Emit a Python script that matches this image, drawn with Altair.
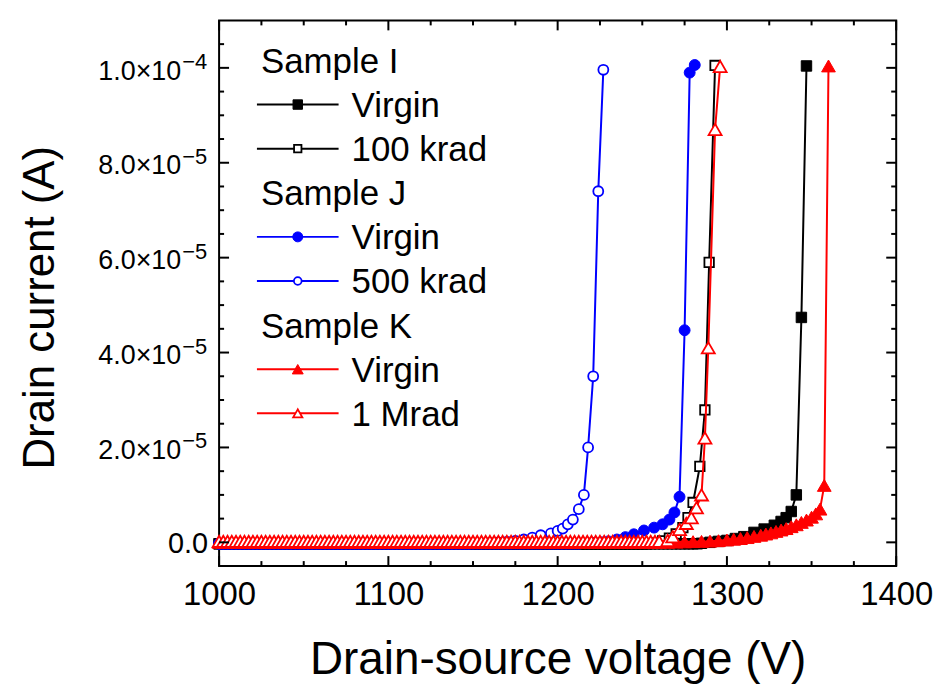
import altair as alt
import pandas as pd
import numpy as np

# ---------------- data (currents in microampere, voltages in V) ----------------
SWEEP_START = 1000.0          # V, start of the voltage sweep
SWEEP_STEP = 2.5              # V, sweep step in the low-current region

SERIES_NAMES = ["Sample I Virgin", "Sample I 100 krad", "Sample J Virgin",
                "Sample J 500 krad", "Sample K Virgin", "Sample K 1 Mrad"]

# flat (leakage) part: sweep ends before first listed rise voltage, leakage level
LEAK_END = [1285, 1255, 1215, 1150, 1262.5, 1262.5]
LEAK_uA = [-0.3, -0.3, -0.3, -0.3, 0.0, 0.2]

RISE_V = [
    [1285, 1290, 1295, 1300, 1305, 1310, 1316, 1322, 1328, 1332, 1335, 1338, 1341, 1344, 1347],
    [1258, 1262, 1266, 1270, 1274, 1277, 1280, 1284, 1287, 1289.5, 1293],
    [1218, 1222, 1226, 1230, 1235, 1240, 1245, 1251, 1257, 1262, 1266, 1269, 1272, 1275, 1278, 1281],
    [1155, 1160, 1165, 1170, 1175, 1180, 1185, 1190, 1196, 1200, 1203, 1206, 1209, 1212.5, 1215.5,
     1218, 1221, 1224, 1227],
    [1265, 1270, 1275, 1280, 1285, 1290, 1295, 1300, 1304, 1308, 1312, 1316, 1320, 1323, 1326,
     1329, 1332, 1335, 1338, 1341, 1344, 1347, 1350, 1352.5, 1355, 1357.5, 1360],
    [1265, 1268, 1272, 1276, 1279, 1282, 1285, 1287, 1289, 1293, 1296],
]
RISE_uA = [
    [-0.2, 0.0, 0.2, 0.4, 0.8, 1.2, 2.1, 2.8, 3.6, 4.4, 5.2, 6.5, 10.0, 47.4, 100.4],
    [-0.1, 0.3, 0.9, 1.8, 3.1, 5.2, 8.4, 16.0, 27.9, 59.0, 100.5],
    [-0.2, -0.1, 0.0, 0.2, 0.6, 1.1, 1.7, 2.5, 3.1, 3.8, 4.8, 6.3, 9.6, 44.7, 99.0, 100.6],
    [-0.2, -0.1, 0.0, 0.1, 0.3, 0.6, 1.0, 1.5, 1.9, 2.4, 2.9, 3.8, 4.8, 7.0, 10.0,
     20.0, 35.0, 74.0, 99.6],
    [0.0, 0.05, 0.1, 0.15, 0.2, 0.25, 0.35, 0.5, 0.65, 0.8, 1.0, 1.25, 1.5, 1.75, 2.0,
     2.3, 2.6, 2.9, 3.3, 3.7, 4.2, 4.7, 5.3, 6.0, 7.0, 12.0, 100.4],
    [0.4, 1.2, 2.7, 4.0, 5.2, 7.3, 10.0, 22.0, 41.0, 87.0, 100.3],
]

# legend entries
LEGEND_GROUPS = ["Sample I", "Sample J", "Sample K"]
LEGEND_LABELS = ["Virgin", "100 krad", "Virgin", "500 krad", "Virgin", "1 Mrad"]

# axes
X_MAJOR = [1000, 1100, 1200, 1300, 1400]
X_MINOR = [1025, 1050, 1075, 1125, 1150, 1175, 1225, 1250, 1275, 1325, 1350, 1375]
Y_MAJOR = [0.0, 2e-5, 4e-5, 6e-5, 8e-5, 1e-4]
Y_MINOR = [5e-6, 1e-5, 1.5e-5, 2.5e-5, 3e-5, 3.5e-5, 4.5e-5, 5e-5, 5.5e-5, 6.5e-5, 7e-5, 7.5e-5,
           8.5e-5, 9e-5, 9.5e-5, 1.05e-4]
Y_LABEL_ZERO = "0.0"
Y_LABEL_MANT = ["2.0×10", "4.0×10", "6.0×10", "8.0×10", "1.0×10"]
Y_LABEL_EXP = ["−5", "−5", "−5", "−5", "−4"]

# ---------------- styles ----------------
COLORS = ["#000000", "#000000", "#0000ff", "#0000ff", "#ff0000", "#ff0000"]
SHAPES = ["square", "square", "circle", "circle", "triangle-up", "triangle-up"]
OPEN = [False, True, False, True, False, True]
MSIZE = [110, 90, 120, 100, 190, 170]
LSIZE = [90, 55, 100, 60, 120, 85]

FONT = "Liberation Sans"
W, H = 680, 548
X_DOMAIN = [1000, 1400]
Y_DOMAIN = [-5e-6, 1.1e-4]

x_enc = alt.X(
    "V:Q",
    scale=alt.Scale(domain=X_DOMAIN, nice=False, zero=False),
    axis=alt.Axis(
        title="Drain-source voltage (V)", values=X_MAJOR, format="d",
        ticks=False, domain=False, grid=False, labelFlush=False, labelOverlap=False,
        labelFont=FONT, labelFontSize=33, labelColor="black", labelPadding=13,
        titleFont=FONT, titleFontSize=46, titleFontWeight="normal", titleColor="black",
        titleY=108, titleBaseline="alphabetic",
    ),
)
y_enc = alt.Y(
    "I:Q",
    scale=alt.Scale(domain=Y_DOMAIN, nice=False, zero=False),
    axis=alt.Axis(
        title="Drain current (A)", values=Y_MAJOR, labels=False,
        ticks=False, domain=False, grid=False,
        titleFont=FONT, titleFontSize=44, titleFontWeight="normal", titleColor="black",
        titleX=-166, titleY=288, titleAngle=-90, titleAlign="center", titleBaseline="alphabetic",
    ),
)

layers = []

# data series
for k in range(6):
    flat_v = list(np.arange(SWEEP_START, LEAK_END[k], SWEEP_STEP))
    v = flat_v + RISE_V[k]
    i = [LEAK_uA[k]] * len(flat_v) + RISE_uA[k]
    df = pd.DataFrame({"V": v, "I": [x * 1e-6 for x in i]})
    base = alt.Chart(df)
    layers.append(base.mark_line(color=COLORS[k], strokeWidth=2).encode(x=x_enc, y=y_enc))
    if OPEN[k]:
        pm = base.mark_point(shape=SHAPES[k], filled=True, fill="white", stroke=COLORS[k],
                             strokeWidth=1.8, size=MSIZE[k], opacity=1)
    else:
        pm = base.mark_point(shape=SHAPES[k], filled=True, fill=COLORS[k], stroke=COLORS[k],
                             strokeWidth=1, size=MSIZE[k], opacity=1)
    layers.append(pm.encode(x=x_enc, y=y_enc))

# inward ticks on all four sides
MAJ_LEN, MIN_LEN = 10, 5
for vals, L in [(X_MAJOR, MAJ_LEN), (X_MINOR, MIN_LEN)]:
    d = alt.Chart(pd.DataFrame({"V": vals}))
    layers.append(d.mark_rule(color="black", strokeWidth=2).encode(
        x=x_enc, y=alt.value(H), y2=alt.value(H - L)))
    layers.append(d.mark_rule(color="black", strokeWidth=2).encode(
        x=x_enc, y=alt.value(0), y2=alt.value(L)))
for vals, L in [(Y_MAJOR, MAJ_LEN), (Y_MINOR, MIN_LEN)]:
    d = alt.Chart(pd.DataFrame({"I": vals}))
    layers.append(d.mark_rule(color="black", strokeWidth=2).encode(
        y=y_enc, x=alt.value(0), x2=alt.value(L)))
    layers.append(d.mark_rule(color="black", strokeWidth=2).encode(
        y=y_enc, x=alt.value(W), x2=alt.value(W - L)))

# y tick labels with real superscript exponents
YL_FS, YE_FS = 27, 22
YL_RIGHT = -11          # right edge of the "0.0" label (px from the axis)
YL_MANT_RIGHT = -38     # right edge of the mantissa
zero_df = pd.DataFrame({"I": [Y_MAJOR[0]], "t": [Y_LABEL_ZERO]})
layers.append(alt.Chart(zero_df).mark_text(
    font=FONT, fontSize=29, align="right", baseline="alphabetic", dy=0.36 * 29, color="black"
).encode(y=y_enc, x=alt.value(YL_RIGHT), text="t:N"))
lab_df = pd.DataFrame({"I": Y_MAJOR[1:], "m": Y_LABEL_MANT, "e": Y_LABEL_EXP})
layers.append(alt.Chart(lab_df).mark_text(
    font=FONT, fontSize=YL_FS, align="right", baseline="alphabetic", dy=0.36 * YL_FS + 2, color="black"
).encode(y=y_enc, x=alt.value(YL_MANT_RIGHT), text="m:N"))
layers.append(alt.Chart(lab_df).mark_text(
    font=FONT, fontSize=YE_FS, align="left", baseline="alphabetic", dy=1, color="black"
).encode(y=y_enc, x=alt.value(YL_MANT_RIGHT + 1), text="e:N"))

# legend (pixel layout inside the plot area)
LEG_X_HEAD = 42
LEG_X0, LEG_X1, LEG_XM, LEG_XT = 38, 120, 79, 133
LEG_BASE0, LEG_DY, LEG_CAP = 52.7, 44.3, 12.5
LEG_FS = 35
row = 0
for g in range(3):
    yb = LEG_BASE0 + LEG_DY * row
    layers.append(alt.Chart(pd.DataFrame({"t": [LEGEND_GROUPS[g]]})).mark_text(
        font=FONT, fontSize=LEG_FS, align="left", baseline="alphabetic", color="black"
    ).encode(x=alt.value(LEG_X_HEAD), y=alt.value(yb), text="t:N"))
    row += 1
    for j in range(2):
        k = 2 * g + j
        yb = LEG_BASE0 + LEG_DY * row
        ys = yb - LEG_CAP
        one = alt.Chart(pd.DataFrame({"t": [LEGEND_LABELS[k]]}))
        layers.append(one.mark_rule(color=COLORS[k], strokeWidth=2).encode(
            x=alt.value(LEG_X0), x2=alt.value(LEG_X1), y=alt.value(ys)))
        if OPEN[k]:
            lp = one.mark_point(shape=SHAPES[k], filled=True, fill="white", stroke=COLORS[k],
                                strokeWidth=1.8, size=LSIZE[k], opacity=1)
        else:
            lp = one.mark_point(shape=SHAPES[k], filled=True, fill=COLORS[k], stroke=COLORS[k],
                                strokeWidth=1, size=LSIZE[k], opacity=1)
        layers.append(lp.encode(x=alt.value(LEG_XM), y=alt.value(ys)))
        layers.append(one.mark_text(
            font=FONT, fontSize=LEG_FS, align="left", baseline="alphabetic", color="black"
        ).encode(x=alt.value(LEG_XT), y=alt.value(yb), text="t:N"))
        row += 1

chart = alt.layer(*layers).properties(
    width=W, height=H,
    autosize=alt.AutoSizeParams(type="none"),
    padding={"left": 212, "top": 11, "right": 46, "bottom": 122},
    background="white",
).configure_view(stroke="black", strokeWidth=2)

chart.save("out.html", embed_options={"renderer": "svg", "actions": False})
